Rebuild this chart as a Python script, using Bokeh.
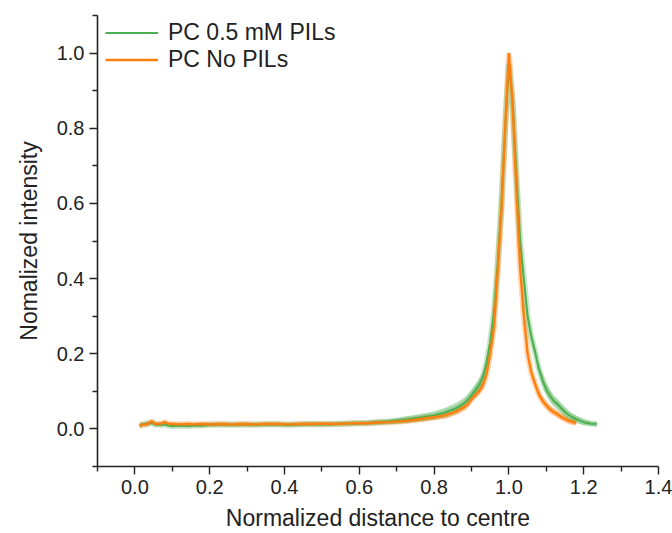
from bokeh.plotting import figure
from bokeh.models import ColumnDataSource, FixedTicker, Legend, LegendItem, Range1d
from bokeh.embed import file_html
from bokeh.resources import INLINE

# ---------------- data ----------------
x_nopils = [0.013, 0.02, 0.03, 0.045, 0.055, 0.07, 0.08, 0.09, 0.10, 0.12, 0.14, 0.16, 0.18, 0.20,
            0.23, 0.26, 0.29, 0.32, 0.35, 0.38, 0.41, 0.44, 0.47, 0.50, 0.53, 0.56, 0.59, 0.62,
            0.65, 0.68, 0.71, 0.74, 0.77, 0.80, 0.83, 0.86, 0.88, 0.89, 0.90, 0.91, 0.92, 0.93,
            0.94, 0.95, 0.96, 0.97, 0.98, 0.99, 1.00, 1.01, 1.02, 1.03, 1.04, 1.05, 1.06, 1.07,
            1.08, 1.09, 1.10, 1.11, 1.12, 1.13, 1.14, 1.15, 1.16, 1.17, 1.18]
y_nopils = [0.006, 0.012, 0.011, 0.020, 0.013, 0.014, 0.018, 0.013, 0.013, 0.012, 0.013, 0.012, 0.013, 0.012,
            0.013, 0.012, 0.013, 0.012, 0.013, 0.013, 0.012, 0.013, 0.013, 0.014, 0.013, 0.014, 0.015, 0.015,
            0.017, 0.018, 0.020, 0.023, 0.027, 0.031, 0.036, 0.047, 0.058, 0.066, 0.080, 0.090, 0.100, 0.115,
            0.145, 0.200, 0.270, 0.420, 0.580, 0.800, 1.000, 0.860, 0.640, 0.430, 0.300, 0.200, 0.150, 0.120,
            0.092, 0.075, 0.063, 0.052, 0.045, 0.039, 0.032, 0.027, 0.022, 0.019, 0.016]
sd_nopils = [0.004, 0.004, 0.004, 0.004, 0.004, 0.004, 0.004, 0.004, 0.004, 0.004, 0.004, 0.004, 0.004, 0.004,
             0.004, 0.004, 0.004, 0.004, 0.004, 0.004, 0.004, 0.004, 0.004, 0.004, 0.004, 0.004, 0.004, 0.004,
             0.005, 0.005, 0.007, 0.007, 0.008, 0.008, 0.009, 0.009, 0.010, 0.010, 0.010, 0.010, 0.010, 0.010,
             0.012, 0.012, 0.012, 0.012, 0.012, 0.012, 0.012, 0.012, 0.012, 0.012, 0.012, 0.012, 0.011, 0.011,
             0.011, 0.011, 0.010, 0.010, 0.010, 0.010, 0.009, 0.009, 0.008, 0.008, 0.007]

x_pils = [0.013, 0.02, 0.03, 0.045, 0.055, 0.07, 0.08, 0.09, 0.10, 0.12, 0.14, 0.16, 0.18, 0.20,
          0.23, 0.26, 0.29, 0.32, 0.35, 0.38, 0.41, 0.44, 0.47, 0.50, 0.53, 0.56, 0.59, 0.62,
          0.65, 0.68, 0.71, 0.74, 0.77, 0.80, 0.83, 0.86, 0.88, 0.89, 0.90, 0.91, 0.92, 0.93,
          0.94, 0.95, 0.96, 0.97, 0.98, 0.99, 1.00, 1.01, 1.02, 1.03, 1.04, 1.05, 1.06, 1.07,
          1.08, 1.09, 1.10, 1.11, 1.12, 1.13, 1.14, 1.15, 1.16, 1.17, 1.18, 1.19, 1.20, 1.21,
          1.22, 1.235]
y_pils = [0.010, 0.012, 0.014, 0.016, 0.012, 0.011, 0.012, 0.009, 0.008, 0.009, 0.008, 0.009, 0.009, 0.011,
          0.012, 0.011, 0.012, 0.011, 0.012, 0.012, 0.011, 0.012, 0.013, 0.012, 0.013, 0.014, 0.015, 0.016,
          0.018, 0.020, 0.023, 0.027, 0.031, 0.036, 0.044, 0.056, 0.068, 0.078, 0.090, 0.103, 0.117, 0.137,
          0.175, 0.230, 0.310, 0.440, 0.600, 0.800, 0.970, 0.870, 0.680, 0.500, 0.400, 0.300, 0.245, 0.205,
          0.160, 0.130, 0.105, 0.088, 0.074, 0.066, 0.055, 0.045, 0.037, 0.031, 0.026, 0.022, 0.018, 0.016,
          0.014, 0.013]
sd_pils = [0.004, 0.004, 0.004, 0.004, 0.004, 0.004, 0.004, 0.004, 0.004, 0.004, 0.004, 0.004, 0.004, 0.004,
           0.004, 0.004, 0.004, 0.004, 0.004, 0.004, 0.004, 0.004, 0.004, 0.004, 0.004, 0.004, 0.005, 0.005,
           0.006, 0.006, 0.008, 0.009, 0.010, 0.011, 0.013, 0.014, 0.015, 0.015, 0.016, 0.016, 0.016, 0.016,
           0.016, 0.016, 0.016, 0.016, 0.016, 0.016, 0.016, 0.016, 0.016, 0.016, 0.016, 0.016, 0.016, 0.016,
           0.016, 0.016, 0.016, 0.016, 0.015, 0.015, 0.014, 0.013, 0.012, 0.011, 0.010, 0.009, 0.008, 0.007,
           0.006, 0.006]

series_labels = ["PC 0.5 mM PILs", "PC No PILs"]

x_major = [0.0, 0.2, 0.4, 0.6, 0.8, 1.0, 1.2, 1.4]
x_minor = [-0.1, 0.1, 0.3, 0.5, 0.7, 0.9, 1.1, 1.3]
x_labels = ["0.0", "0.2", "0.4", "0.6", "0.8", "1.0", "1.2", "1.4"]
y_major = [0.0, 0.2, 0.4, 0.6, 0.8, 1.0]
y_minor = [-0.1, 0.1, 0.3, 0.5, 0.7, 0.9, 1.1]
y_labels = ["0.0", "0.2", "0.4", "0.6", "0.8", "1.0"]

# ---------------- styling ----------------
FONT = "Liberation Sans"
GREEN = "#4caf50"
ORANGE = "#ff7f0e"
TEXT = "#222222"

p = figure(width=672, height=533, output_backend="svg", toolbar_location=None,
           x_range=Range1d(-0.1, 1.4), y_range=Range1d(-0.1, 1.1),
           min_border_left=97, min_border_right=14, min_border_top=15, min_border_bottom=67)
p.outline_line_color = None
p.xgrid.visible = False
p.ygrid.visible = False
p.background_fill_color = "white"


def band_source(xs, ys, sds):
    return ColumnDataSource(dict(x=xs, y=ys,
                                 lo=[a - b for a, b in zip(ys, sds)],
                                 hi=[a + b for a, b in zip(ys, sds)]))


src_o = band_source(x_nopils, y_nopils, sd_nopils)
src_g = band_source(x_pils, y_pils, sd_pils)

# shaded error bands (vertical spread + soft halo along the curve)
p.varea(x="x", y1="lo", y2="hi", source=src_o, fill_color=ORANGE, fill_alpha=0.3)
p.line("x", "y", source=src_o, line_color=ORANGE, line_width=6, line_alpha=0.3)
p.varea(x="x", y1="lo", y2="hi", source=src_g, fill_color=GREEN, fill_alpha=0.35)
p.line("x", "y", source=src_g, line_color=GREEN, line_width=6, line_alpha=0.3)
r_g = p.line("x", "y", source=src_g, line_color=GREEN, line_width=2)
r_o = p.line("x", "y", source=src_o, line_color=ORANGE, line_width=2.4)

legend = Legend(items=[LegendItem(label=series_labels[0], renderers=[r_g]),
                       LegendItem(label=series_labels[1], renderers=[r_o])],
                location=(8, 393), padding=2, margin=0, spacing=0,
                glyph_width=53, glyph_height=27, label_standoff=10,
                label_text_font=FONT, label_text_font_size="23px", label_text_color=TEXT,
                border_line_color=None, background_fill_alpha=0)
p.add_layout(legend)

p.xaxis.ticker = FixedTicker(ticks=x_major, minor_ticks=x_minor)
p.yaxis.ticker = FixedTicker(ticks=y_major, minor_ticks=y_minor)
p.xaxis.major_label_overrides = {t: s for t, s in zip(x_major, x_labels)}
p.yaxis.major_label_overrides = {t: s for t, s in zip(y_major, y_labels)}
p.xaxis.axis_label = "Normalized distance to centre"
p.yaxis.axis_label = "Nomalized intensity"

for ax in (p.xaxis, p.yaxis):
    ax.axis_line_color = TEXT
    ax.axis_line_width = 1.6
    ax.major_tick_line_color = TEXT
    ax.minor_tick_line_color = TEXT
    ax.major_tick_line_width = 1.4
    ax.minor_tick_line_width = 1.4
    ax.major_tick_in = 0
    ax.major_tick_out = 8
    ax.minor_tick_in = 0
    ax.minor_tick_out = 5
    ax.major_label_text_font = FONT
    ax.major_label_text_font_size = "20px"
    ax.major_label_text_color = TEXT
    ax.axis_label_text_font = FONT
    ax.axis_label_text_font_size = "23px"
    ax.axis_label_text_font_style = "normal"
    ax.axis_label_text_color = TEXT

p.xaxis.major_label_standoff = 5
p.yaxis.major_label_standoff = 5
p.xaxis.axis_label_standoff = 8
p.yaxis.axis_label_standoff = 12

open("out.html", "w").write(file_html(p, INLINE))
